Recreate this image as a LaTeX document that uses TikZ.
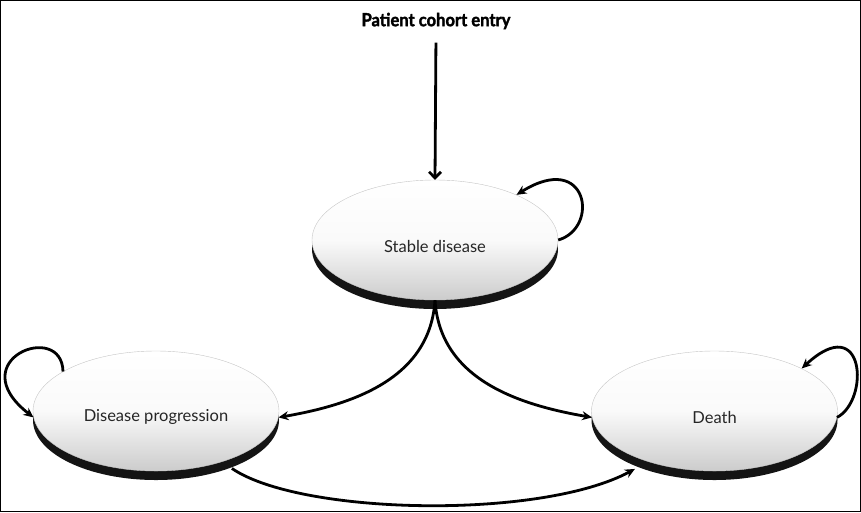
\documentclass[tikz,border=0pt]{standalone}
\usepackage{fontspec}
\setmainfont{Lato}
\newfontfamily\titlefont[BoldFeatures={FakeBold=2}]{Lato}
\usetikzlibrary{arrows.meta,shapes.geometric,shadows}
\begin{document}
\begin{tikzpicture}[x=1pt,y=-1pt,
  state/.style={ellipse, inner sep=0pt, minimum width=246pt, minimum height=120pt,
    draw=gray!45, line width=0.4pt, top color=white, bottom color=gray!40, middle color=white!96!gray,
    drop shadow={shadow xshift=0pt, shadow yshift=-9pt, fill=black, opacity=0.92}},
  statetext/.style={font=\fontsize{16.5}{18}\selectfont, text=black!85, yshift=-6pt},
  conn/.style={line width=2.8pt, -{Stealth[length=10pt,width=9pt]}},
  entry/.style={line width=2.8pt, -{Straight Barb[length=6pt,width=12pt]}}]
\useasboundingbox (0,0) rectangle (861,512);
\draw[line width=1pt] (0.5,0.5) rectangle (860.5,511.5);
\node[font=\titlefont\bfseries\fontsize{18}{20}\selectfont] (title) at (436,21) {\scalebox{0.92}[1]{Patient cohort entry}};
\node[state, label={[statetext]center:Stable disease}] (stable) at (435,240) {};
\node[state, label={[statetext]center:Disease progression}] (dp) at (156,411) {};
\node[state, label={[statetext]center:Death}] (death) at (714.5,411) {};
% entry
\draw[entry, shorten <=10pt] (title.south) -- (stable.north);
% self loops
\draw[conn] (stable.east) .. controls (600,228) and (588,150) .. (stable.29);
\draw[conn] (dp.157) .. controls (62,320) and (-40,360) .. (dp.183);
\draw[conn] (death.-3) .. controls (870,400) and (865,310) .. (death.26);
% transitions
\draw[conn] (stable.south) .. controls (430,380) and (350,405) .. (dp.-3);
\draw[conn] (stable.south) .. controls (440,380) and (520,405) .. (death.183);
\draw[conn] ([yshift=-10pt]dp.-32) .. controls (300,515) and (540,520) .. ([yshift=-12pt]death.-150);
\end{tikzpicture}
\end{document}
